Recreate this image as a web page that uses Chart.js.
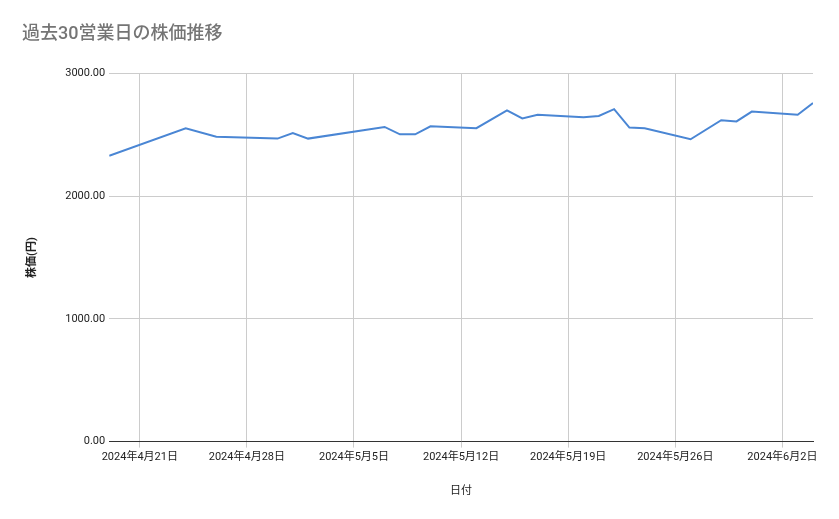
<!DOCTYPE html>
<html><head><meta charset="utf-8">
<script src="https://cdn.jsdelivr.net/npm/chart.js@4/dist/chart.umd.min.js"></script>
<style>body{margin:0;background:#fff}#w{width:839px;height:519px}</style>
</head><body><div id="w"><canvas id="c"></canvas></div>
<script>
// days offset from 2024-04-21
const dayOffsets = [-2,3,5,9,10,11,16,17,18,19,22,24,25,26,29,30,31,32,33,36,38,39,40,43,44];
const prices = [2330,2555,2485,2470,2515,2470,2565,2505,2505,2570,2555,2700,2635,2665,2645,2655,2710,2560,2555,2465,2620,2610,2690,2665,2760];
const tickDays = [0,7,14,21,28,35,42];
const tickLabels = ['2024年4月21日','2024年4月28日','2024年5月5日','2024年5月12日','2024年5月19日','2024年5月26日','2024年6月2日'];
const yTicks = [0,1000,2000,3000];
const font = "'Roboto','Noto Sans CJK JP',sans-serif";
new Chart(document.getElementById('c'), {
  type:'line',
  data:{datasets:[{data:dayOffsets.map((d,i)=>({x:d,y:prices[i]})),borderColor:'#4a86d4',borderWidth:2,pointRadius:0,tension:0}]},
  options:{
    responsive:true,maintainAspectRatio:false,animation:false,
    layout:{padding:{left:22,right:26,top:6,bottom:17}},
    plugins:{legend:{display:false},tooltip:{enabled:false},
      title:{display:true,text:'過去30営業日の株価推移',align:'start',color:'#757575',font:{family:font,size:18,weight:'500'},padding:{top:18,bottom:28}}},
    scales:{
      x:{type:'linear',min:-2,max:44,
        afterBuildTicks:a=>{a.ticks=tickDays.map(v=>({value:v}));},
        ticks:{callback:(v)=>tickLabels[tickDays.indexOf(v)],color:'#222',font:{family:font,size:11},maxRotation:0,autoSkip:false},
        grid:{color:'#cccccc',drawTicks:true,tickLength:6},border:{color:'#333'},
        title:{display:true,text:'日付',color:'#222',font:{family:font,size:11},padding:{top:18}}},
      y:{min:0,max:3000,
        afterBuildTicks:a=>{a.ticks=yTicks.map(v=>({value:v}));},
        ticks:{callback:v=>v.toFixed(2),color:'#222',font:{family:font,size:11},padding:4},
        grid:{color:'#cccccc',drawTicks:false},border:{display:false},
        title:{display:true,text:'株価(円)',color:'#222',font:{family:font,size:11,weight:'bold'},padding:{bottom:22}}}
    }
  }
});
</script></body></html>
